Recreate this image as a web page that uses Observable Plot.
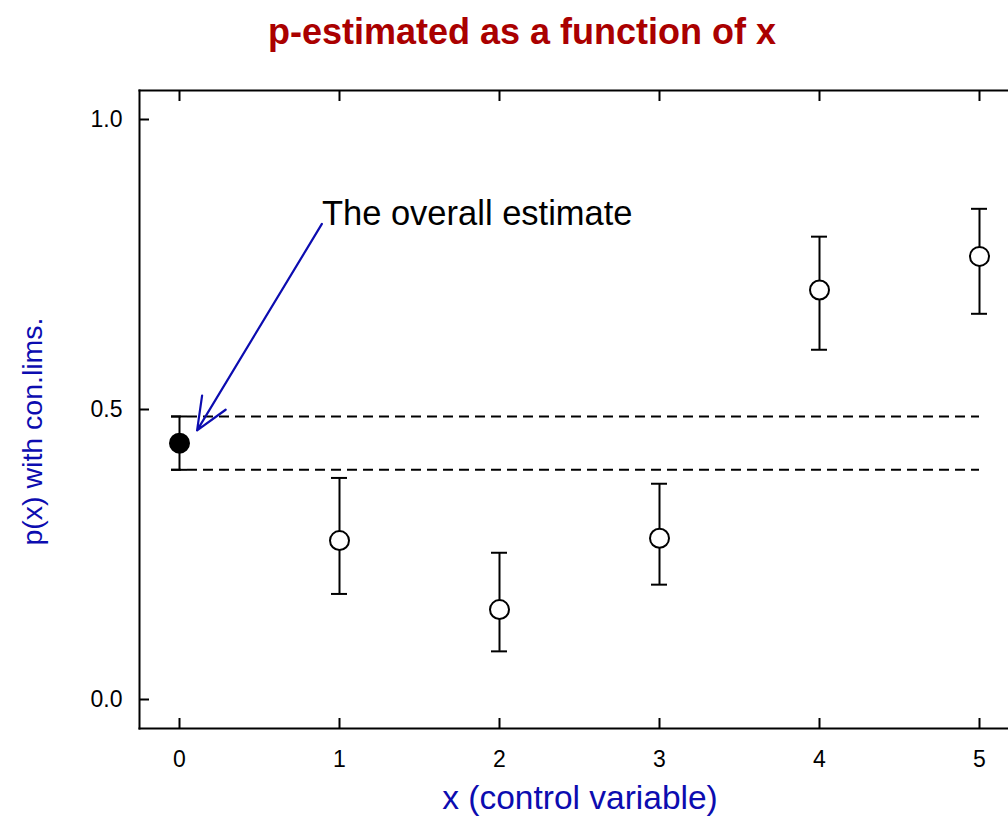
<!DOCTYPE html>
<html><head><meta charset="utf-8">
<script src="https://cdn.jsdelivr.net/npm/d3@7"></script>
<script src="https://cdn.jsdelivr.net/npm/@observablehq/plot@0.6"></script>
<style>body{margin:0;background:#fff} svg{display:block}</style>
</head><body><div id="chart"></div>
<script>
// ---- data ----
const xs     = [0, 1, 2, 3, 4, 5];
const pEst   = [0.442, 0.274, 0.155, 0.278, 0.706, 0.764];
const lower  = [0.396, 0.182, 0.083, 0.198, 0.603, 0.665];
const upper  = [0.488, 0.382, 0.253, 0.372, 0.798, 0.846];
const isOverall = [true, false, false, false, false, false];
const overallLimits = [0.396, 0.488];
const xTicks = [0, 1, 2, 3, 4, 5];
const yTicks = [0, 0.5, 1];
const titleText = "p-estimated as a function of x";
const xLabel = "x (control variable)";
const yLabel = "p(x) with con.lims.";
const annotation = [{text: "The overall estimate", x1: 0.89, y1: 0.82, x2: 0.11, y2: 0.464}];

const rows = xs.map((x, i) => ({x, p: pEst[i], lo: lower[i], hi: upper[i], overall: isOverall[i]}));
const capHalf = 0.05;

const FONT = "'Liberation Sans', Arial, Helvetica, sans-serif";
const BLUE = "#0c0cb0";
const RED = "#aa0000";

const chart = Plot.plot({
  width: 1008,
  height: 819,
  marginTop: 90,
  marginBottom: 91,
  marginLeft: 139,
  marginRight: 0,
  style: {fontFamily: FONT, background: "white", overflow: "visible"},
  x: {domain: [-0.25, 5.18125]},
  y: {domain: [-0.05, 1.05]},
  marks: [
    // frame lines (left, top, bottom)
    Plot.frame({anchor: "left", stroke: "black", strokeWidth: 2}),
    Plot.frame({anchor: "top", stroke: "black", strokeWidth: 2}),
    Plot.frame({anchor: "bottom", stroke: "black", strokeWidth: 2}),
    // inward ticks
    Plot.axisY({ticks: yTicks, anchor: "left", tickSize: -10, strokeWidth: 2, text: null}),
    Plot.axisY({ticks: yTicks, anchor: "left", tickSize: 0, tickPadding: 17, tickFormat: d3.format(".1f"), fontSize: 23, fill: "black", label: null}),
    Plot.axisX({ticks: xTicks, anchor: "bottom", tickSize: -10, strokeWidth: 2, text: null}),
    Plot.axisX({ticks: xTicks, anchor: "top", tickSize: -10, strokeWidth: 2, text: null}),
    Plot.axisX({ticks: xTicks, anchor: "bottom", tickSize: 0, tickPadding: 22, tickFormat: d3.format("d"), fontSize: 23, fill: "black", label: null}),
    // overall confidence limits (dashed)
    Plot.ruleY(overallLimits, {x1: -capHalf, x2: 5, stroke: "black", strokeWidth: 2, strokeDasharray: "10,6"}),
    // error bars
    Plot.ruleX(rows, {x: "x", y1: "lo", y2: "hi", stroke: "black", strokeWidth: 2}),
    Plot.ruleY(rows, {y: "lo", x1: d => d.x - capHalf, x2: d => d.x + capHalf, stroke: "black", strokeWidth: 2}),
    Plot.ruleY(rows, {y: "hi", x1: d => d.x - capHalf, x2: d => d.x + capHalf, stroke: "black", strokeWidth: 2}),
    // points
    Plot.dot(rows, {x: "x", y: "p", r: 9.5, stroke: "black", strokeWidth: 2, fill: d => d.overall ? "black" : "white"}),
    // annotation
    Plot.arrow(annotation, {x1: "x1", y1: "y1", x2: "x2", y2: "y2", stroke: BLUE, strokeWidth: 2.2, headLength: 24, headAngle: 46}),
    Plot.text(annotation, {x: "x1", y: "y1", text: "text", textAnchor: "start", dy: -10, fontSize: 34.5, fill: "black"}),
    // title & axis labels
    Plot.text([titleText], {frameAnchor: "top", textAnchor: "middle", lineAnchor: "middle", dx: -52, dy: -58, fontSize: 36, fontWeight: "bold", fill: RED}),
    Plot.text([xLabel], {frameAnchor: "bottom", textAnchor: "middle", lineAnchor: "middle", dx: 6, dy: 70, fontSize: 33.5, fill: BLUE}),
    Plot.text([yLabel], {frameAnchor: "left", textAnchor: "middle", lineAnchor: "middle", dx: -107, dy: 22, rotate: -90, fontSize: 28.5, fill: BLUE})
  ]
});
document.getElementById("chart").appendChild(chart);
</script>
</body></html>
